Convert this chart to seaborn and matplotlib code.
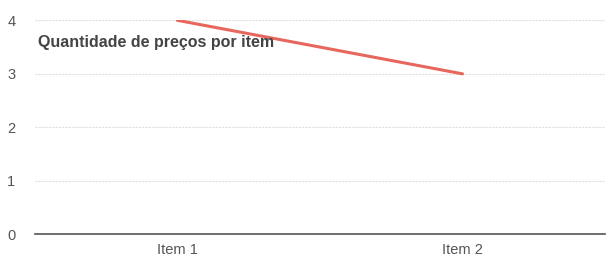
import numpy as np
import pandas as pd
import seaborn as sns
import matplotlib.pyplot as plt

# dados
itens = ["Item 1", "Item 2"]
quantidade = [4, 3]
titulo = "Quantidade de preços por item"

df = pd.DataFrame({"item": itens, "quantidade": quantidade})

sns.set_theme(style="white")
plt.rcParams['font.family'] = ['Liberation Sans', 'DejaVu Sans']

fig, ax = plt.subplots(figsize=(6.13, 2.71), dpi=100)
fig.subplots_adjust(left=0.057, right=0.987, top=0.925, bottom=0.135)

sns.lineplot(data=df, x="item", y="quantidade", ax=ax, color="#e8675c",
             linewidth=2.2, sort=False)

ax.set_xlim(-0.5, 1.5)
ax.set_ylim(0, 4)
ax.set_yticks([0, 1, 2, 3, 4])
ax.yaxis.grid(True, color="#dedede", linewidth=0.8, linestyle=(0, (2, 1)))
ax.set_axisbelow(True)
for s in ["top", "right", "left"]:
    ax.spines[s].set_visible(False)
ax.spines["bottom"].set_color("#555555")
ax.spines["bottom"].set_linewidth(1.2)
ax.tick_params(axis="both", length=0, labelsize=10.5, labelcolor="#555555")
ax.tick_params(axis="x", pad=6)
ax.tick_params(axis="y", pad=14)
ax.set_xlabel("")
ax.set_ylabel("")

ax.text(0.005, 0.895, titulo, transform=ax.transAxes, fontsize=11.5,
        fontweight="bold", color="#444444", va="center", ha="left")

fig.savefig("out.png", dpi=100)
